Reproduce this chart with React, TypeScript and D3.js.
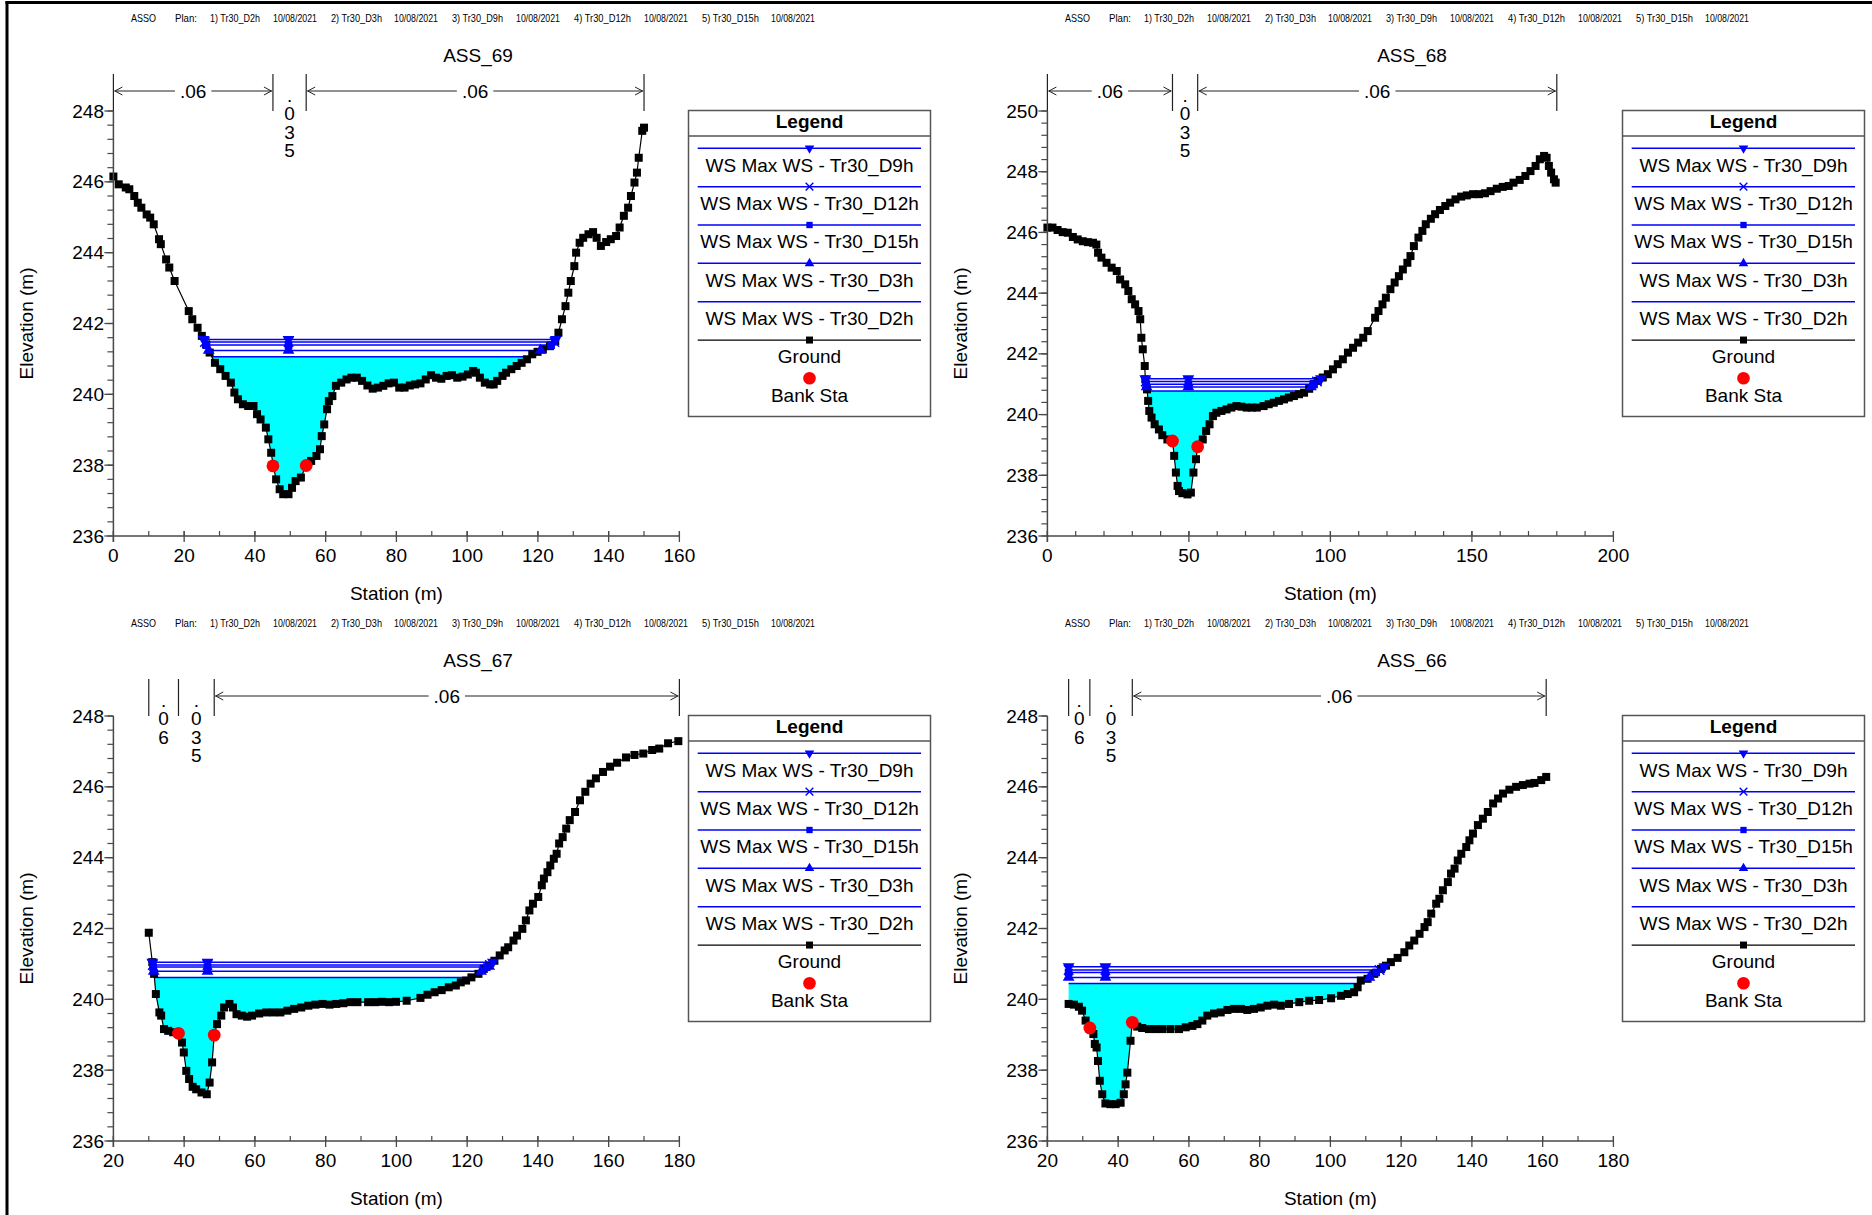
import React from 'react';
import * as d3 from 'd3';

// ---------------- DATA ----------------
const headerTokens = ['ASSO', 'Plan:', '1) Tr30_D2h', '10/08/2021', '2) Tr30_D3h', '10/08/2021', '3) Tr30_D9h', '10/08/2021', '4) Tr30_D12h', '10/08/2021', '5) Tr30_D15h', '10/08/2021'];

const titles = ['ASS_69', 'ASS_68', 'ASS_67', 'ASS_66'];

const legendWsLabels = ['WS Max WS - Tr30_D9h', 'WS Max WS - Tr30_D12h', 'WS Max WS - Tr30_D15h', 'WS Max WS - Tr30_D3h', 'WS Max WS - Tr30_D2h'];
const legendGroundLabel = 'Ground';
const legendBankLabel = 'Bank Sta';

// ASS_69
const st69 = [0,1.5,3.5,4.5,5.9,6.9,7.9,9.4,10.4,11.4,12.9,13.4,14.9,15.8,17.3,21.3,22.3,23.8,25,26.2,27.2,28.7,30.2,31.7,33.2,34.2,35.2,36.6,38.1,39.6,40.6,41.6,43.1,43.8,44.6,45.2,46,47,48,49.5,50.5,51.5,53,54.5,55.9,57.4,58.4,58.9,59.6,60.4,60.9,61.9,62.9,64.4,65.9,67.3,68.8,70.3,71.8,73.3,74.8,76.3,77.8,79.3,80.8,82.3,83.8,85.3,86.8,88.3,89.8,91.2,92.7,94.2,95.7,97.2,98.7,100.2,101.7,102.5,103.6,105,106.5,107.5,108.5,110,111,112.5,114,115.4,116.9,118.4,119.9,121.4,123.4,124.9,125.8,126.8,127.8,128.6,129.3,130.3,130.8,131.8,132.8,134.3,135.6,136.6,137.8,139.3,140.6,142.1,143.1,144.3,145.5,146.3,147.3,148,148.5,149.5,150];
const el69 = [246.15,245.93,245.84,245.79,245.6,245.41,245.27,245.08,244.99,244.8,244.38,244.24,243.81,243.58,243.2,242.35,242.12,241.88,241.65,241.41,241.18,240.89,240.71,240.52,240.33,240.05,239.86,239.72,239.67,239.67,239.44,239.29,239.06,238.73,238.35,237.98,237.6,237.32,237.18,237.18,237.36,237.55,237.65,237.99,238.12,238.26,238.45,238.82,239.15,239.58,239.81,239.95,240.24,240.33,240.42,240.47,240.47,240.38,240.25,240.16,240.19,240.24,240.31,240.33,240.19,240.19,240.25,240.28,240.31,240.42,240.54,240.47,240.44,240.52,240.54,240.47,240.5,240.56,240.66,240.61,240.47,240.33,240.28,240.28,240.38,240.52,240.61,240.71,240.8,240.89,240.99,241.13,241.2,241.27,241.36,241.5,241.74,242.12,242.49,242.87,243.2,243.62,244,244.28,244.42,244.52,244.58,244.42,244.19,244.3,244.38,244.47,244.71,245.04,245.27,245.6,245.98,246.26,246.68,247.44,247.53];
const bankSt69 = [45.1, 54.5];
const bankEl69 = [237.98, 237.99];
const nBounds69 = [0, 45.1, 54.5, 150];
const nLabels69 = ['.06', '.035', '.06'];
const ws69 = [241.55, 241.48, 241.39, 241.24, 241.06]; // D9h, D12h, D15h, D3h, D2h
const wsMid69 = 49.5;

// ASS_68
const st68 = [0,1.8,3.6,5.4,7.2,9,10.7,12.5,14.3,16.1,17.3,17.9,19.1,20.9,22.7,24.5,25.7,27.5,28.6,29.8,31,32.2,32.8,33.2,33.7,34.4,34.6,35.2,35.6,36,36.8,37.9,39.4,40.6,42.4,44.2,44.8,45.4,46,46.5,47.7,49.5,50.7,51.6,52.5,53.1,54.9,56.1,57.3,58.5,59.7,61.5,63.3,65,66.8,68.6,70.4,72.2,74,76.4,78.2,80,81.8,83.6,85.3,87.1,88.9,90.7,92.5,94.1,95.5,97.3,99.1,100.9,102.6,104.4,106.2,108,109.8,111.6,113.2,115.8,117,118.4,119.6,121.2,122.7,124.2,125.6,127.2,128.3,129.5,131.1,132.5,133.7,135.5,137,138.7,140.6,142.3,144.2,146.2,148.2,150.4,152.5,154.6,156.6,158.8,160.9,163,164.7,166.9,168.9,170.7,172.5,174,175.5,176.4,177.2,178,179,179.6];
const el68 = [246.16,246.16,246.08,246.01,245.99,245.85,245.77,245.71,245.68,245.66,245.6,245.33,245.17,245,244.84,244.73,244.45,244.29,244.07,243.8,243.63,243.41,243.14,242.53,242.15,241.6,241.16,240.83,240.45,240.12,239.9,239.68,239.51,239.32,239.18,239.13,238.64,238.09,237.65,237.48,237.41,237.37,237.43,238.09,238.53,238.94,239.18,239.46,239.68,239.95,240.06,240.12,240.17,240.23,240.28,240.26,240.23,240.23,240.23,240.28,240.34,240.39,240.45,240.5,240.56,240.61,240.67,240.72,240.85,241,241.11,241.22,241.33,241.49,241.66,241.82,242.04,242.2,242.37,242.53,242.75,243.19,243.41,243.63,243.85,244.13,244.35,244.56,244.78,245,245.22,245.55,245.83,246.05,246.27,246.45,246.6,246.74,246.87,246.98,247.09,247.18,247.22,247.26,247.26,247.29,247.36,247.44,247.5,247.53,247.64,247.73,247.86,248.02,248.19,248.41,248.52,248.46,248.19,247.97,247.75,247.64];
const bankSt68 = [44.2, 53.1];
const bankEl68 = [239.13, 238.94];
const nBounds68 = [0, 44.2, 53.1, 180];
const nLabels68 = ['.06', '.035', '.06'];
const ws68 = [241.18, 241.09, 241.0, 240.91, 240.78];
const wsMid68 = 49.8;

// ASS_67
const st67 = [30,31,31.5,32,33,33.5,34.3,35.5,36.9,38.4,39.4,39.9,40.6,41.4,42.4,43.4,44.9,46.4,47.2,47.9,48.5,49.3,50.5,51.3,52.8,53.8,54.8,56.3,57.8,59.2,61.2,63.2,65.2,67.2,69.2,71.1,73.1,75.1,77.1,79.1,81.1,83,85,87,89,92,94,95.9,97.9,99.9,102.9,106.8,108.8,110.8,112.8,114.8,116.8,118.2,119.7,121.2,123.2,124.7,126.2,127.7,129.2,130.6,131.6,133.1,134.1,135.6,136.6,137.6,138.6,140.1,141.1,141.7,142.7,143.5,144.5,145.3,146,147,148,149,150.5,151.9,153.4,154.9,156.4,158.4,160.4,162.4,164.9,167.3,169.8,172.3,174.3,176.8,179.7];
const el67 = [241.88,241.05,240.72,240.15,239.63,239.54,239.16,239.11,239.07,239.04,238.78,238.5,237.98,237.75,237.53,237.46,237.37,237.32,237.65,238.22,238.99,239.3,239.54,239.77,239.87,239.77,239.58,239.54,239.51,239.54,239.6,239.63,239.63,239.63,239.68,239.73,239.77,239.82,239.85,239.87,239.85,239.87,239.89,239.92,239.92,239.92,239.92,239.93,239.92,239.93,239.96,240.04,240.13,240.2,240.26,240.34,240.39,240.48,240.53,240.62,240.72,240.86,240.95,241.09,241.24,241.38,241.47,241.66,241.8,241.99,242.23,242.51,242.7,242.89,243.22,243.41,243.59,243.78,243.97,244.11,244.4,244.58,244.82,245.06,245.29,245.62,245.86,246.09,246.24,246.42,246.57,246.68,246.83,246.9,246.94,247.04,247.08,247.23,247.29];
const bankSt67 = [38.4, 48.5];
const bankEl67 = [239.04, 238.99];
const nBounds67 = [30, 38.4, 48.5, 180];
const nLabels67 = ['.06', '.035', '.06'];
const ws67 = [241.05, 240.97, 240.91, 240.79, 240.62];
const wsMid67 = 46.6;

// ASS_66
const st66 = [26,27.5,28.9,29.8,30.8,32,33,33.4,33.9,34.3,34.8,35.5,36.4,37.8,39.3,40.7,41.6,42.1,42.6,43.5,44,45.4,46.8,48.7,50.6,52.5,54.8,57.2,59.1,61,62.4,63.8,65.2,67.1,69,70.9,72.8,74.7,76.5,78.4,80.3,82.2,84.1,86,88.3,91.2,94,96.8,100.2,103,104.9,106.7,107.7,108.6,110.5,112.4,114.3,115.7,117.1,119,120.9,122.3,123.7,125.2,126.6,127.5,128.5,129.9,130.8,131.8,133.2,134.1,135.1,136,137,138.4,139.3,140.3,141.7,143.1,144.5,146,147.4,148.8,150.6,152.5,154.4,156.3,157.7,159.6,161];
const el66 = [239.87,239.85,239.79,239.68,239.4,239.19,239.02,238.74,238.64,238.26,237.7,237.32,237.06,237.04,237.04,237.08,237.32,237.6,237.93,238.83,239.35,239.23,239.19,239.16,239.16,239.16,239.16,239.16,239.21,239.25,239.3,239.4,239.54,239.6,239.63,239.7,239.73,239.73,239.7,239.73,239.77,239.82,239.85,239.82,239.87,239.92,239.96,239.98,240.03,240.1,240.15,240.2,240.34,240.53,240.58,240.72,240.86,240.95,241.05,241.17,241.33,241.52,241.66,241.85,242.04,242.18,242.42,242.7,242.84,243.08,243.31,243.55,243.69,243.92,244.11,244.3,244.49,244.68,244.92,245.1,245.29,245.53,245.67,245.81,245.92,246,246.05,246.09,246.11,246.19,246.28];
const bankSt66 = [32, 44];
const bankEl66 = [239.19, 239.35];
const nBounds66 = [26, 32, 44, 161];
const nLabels66 = ['.06', '.035', '.06'];
const ws66 = [240.92, 240.83, 240.76, 240.62, 240.45];
const wsMid66 = 36.4;

const xDomains = [[0, 160], [0, 200], [20, 180], [20, 180]];
const xMajorSteps = [20, 50, 20, 20];
const yDomains = [[236, 248], [236, 250], [236, 248], [236, 248]];

// ---------------- LAYOUT / STYLE ----------------
const W = 1872, H = 1215;
const PL = 113.4, PR = 679.4, PT = 111, PB = 536;
const DX = 934, DY = 605;
const FONT = "'Liberation Sans', Arial, Helvetica, sans-serif";
const HEADER_X = [131, 175, 210, 273, 331, 394, 452, 516, 574, 644, 702, 771];
const HEADER_W = [25, 22, 50, 44, 51, 44, 51, 44, 57, 44, 57, 44];
const WS_SYMBOLS = ['triangleDown', 'times', 'square', 'triangleUp', 'none'];
const BLUE = '#0000ff';
const AXIS = '#484848';
const GS = 8; // ground marker size

const panelData = [
  { st: st69, el: el69, bankSt: bankSt69, bankEl: bankEl69, nB: nBounds69, nL: nLabels69, ws: ws69, mid: wsMid69 },
  { st: st68, el: el68, bankSt: bankSt68, bankEl: bankEl68, nB: nBounds68, nL: nLabels68, ws: ws68, mid: wsMid68 },
  { st: st67, el: el67, bankSt: bankSt67, bankEl: bankEl67, nB: nBounds67, nL: nLabels67, ws: ws67, mid: wsMid67 },
  { st: st66, el: el66, bankSt: bankSt66, bankEl: bankEl66, nB: nBounds66, nL: nLabels66, ws: ws66, mid: wsMid66 },
];

function wetExtent(st: number[], el: number[], level: number): [number, number] {
  const imin = d3.minIndex(el);
  let left = st[0];
  let right = st[st.length - 1];
  for (let i = imin; i > 0; i--) {
    if (el[i - 1] >= level) {
      const t = (level - el[i - 1]) / (el[i] - el[i - 1]);
      left = st[i - 1] + t * (st[i] - st[i - 1]);
      break;
    }
  }
  for (let i = imin; i < st.length - 1; i++) {
    if (el[i + 1] >= level) {
      const t = (level - el[i]) / (el[i + 1] - el[i]);
      right = st[i] + t * (st[i + 1] - st[i]);
      break;
    }
  }
  return [left, right];
}

function symbolPath(type: string, size: number): string {
  if (type === 'square') return d3.symbol(d3.symbolSquare, size)() as string;
  if (type === 'triangleUp' || type === 'triangleDown') return d3.symbol(d3.symbolTriangle, size)() as string;
  if (type === 'times') return d3.symbol(d3.symbolTimes, size)() as string;
  return '';
}

function Marker({ type, x, y, size }: { type: string; x: number; y: number; size: number }) {
  if (type === 'none') return null;
  const d = symbolPath(type, size);
  const rot = type === 'triangleDown' ? ' rotate(180)' : '';
  if (type === 'times') {
    return <path d={d} transform={`translate(${x},${y})`} fill="none" stroke={BLUE} strokeWidth={1.4} />;
  }
  return <path d={d} transform={`translate(${x},${y})${rot}`} fill={BLUE} />;
}

function textWidth(s: string, fs: number) {
  let w = 0;
  for (const c of s) w += c === '.' ? 0.278 : 0.556;
  return w * fs;
}

function Panel({ idx }: { idx: number }) {
  const p = panelData[idx];
  const ox = (idx % 2) * DX;
  const oy = Math.floor(idx / 2) * DY;
  const xd = xDomains[idx];
  const yd = yDomains[idx];
  const x = d3.scaleLinear().domain(xd).range([PL, PR]);
  const y = d3.scaleLinear().domain(yd).range([PB, PT]);

  const xMinor = d3.range(xd[0], xd[1] + 1e-6, 10);
  const xMajor = d3.range(xd[0], xd[1] + 1e-6, xMajorSteps[idx]);
  const yMinor = d3.range(0, Math.round((yd[1] - yd[0]) / 0.4) + 1).map((k) => yd[0] + k * 0.4);
  const yMajor = d3.range(yd[0], yd[1] + 1e-6, 2);

  // cyan fill for the lowest profile (Tr30_D2h)
  const fillLevel = p.ws[p.ws.length - 1];
  const [fl, fr] = wetExtent(p.st, p.el, fillLevel);
  const fillPts: [number, number][] = [[fl, fillLevel]];
  p.st.forEach((s, i) => {
    if (s >= fl && s <= fr) fillPts.push([s, Math.min(p.el[i], fillLevel)]);
  });
  fillPts.push([fr, fillLevel]);
  const fillPath = d3.line<[number, number]>().x((d) => x(d[0])).y((d) => y(d[1]))(fillPts) + 'Z';

  const groundPath = d3.line<number>().x((_, i) => x(p.st[i])).y((d) => y(d))(p.el) as string;

  const wsExt = p.ws.map((lv) => wetExtent(p.st, p.el, lv));

  // n-value brackets
  const bracketTop = PT - 37;
  const arrowY = PT - 20;
  const brackets = p.nL.map((lab, k) => {
    const xa = x(p.nB[k]);
    const xb = x(p.nB[k + 1]);
    const tw = textWidth(lab, 19);
    const cx = (xa + xb) / 2;
    if (xb - xa > tw + 30) {
      const g = tw / 2 + 5;
      return (
        <g key={'nb' + k}>
          <line x1={xa + 1} y1={arrowY} x2={cx - g} y2={arrowY} stroke="#222" strokeWidth={1} />
          <line x1={cx + g} y1={arrowY} x2={xb - 1} y2={arrowY} stroke="#222" strokeWidth={1} />
          <path d={`M${xa + 9},${arrowY - 4}L${xa + 1.5},${arrowY}L${xa + 9},${arrowY + 4}`} fill="none" stroke="#222" strokeWidth={1} />
          <path d={`M${xb - 9},${arrowY - 4}L${xb - 1.5},${arrowY}L${xb - 9},${arrowY + 4}`} fill="none" stroke="#222" strokeWidth={1} />
          <text x={cx} y={arrowY} textAnchor="middle" dominantBaseline="central" fontSize={19} fontFamily={FONT} fill="#000">{lab}</text>
        </g>
      );
    }
    return (
      <g key={'nb' + k}>
        {lab.split('').map((c, j) => (
          <text key={j} x={cx} y={PT - 16 + 18.5 * j} textAnchor="middle" dominantBaseline="central" fontSize={19} fontFamily={FONT} fill="#000">{c}</text>
        ))}
      </g>
    );
  });

  // legend geometry
  const LX = 688.5, LY = 110.5, LW = 242, LH = 306;
  const lcx = LX + LW / 2;
  const rowLine = (i: number) => 148.3 + 38.35 * i;
  const rowText = (i: number) => 165 + 38.35 * i;

  return (
    <g transform={`translate(${ox},${oy})`}>
      {/* header */}
      {headerTokens.map((t, i) => (
        <text key={'h' + i} x={HEADER_X[i]} y={21.5} fontSize={10.5} fontFamily={FONT} fill="#000" textLength={HEADER_W[i]} lengthAdjust="spacingAndGlyphs">{t}</text>
      ))}
      {/* title */}
      <text x={478} y={55} textAnchor="middle" dominantBaseline="central" fontSize={19} fontFamily={FONT} fill="#000">{titles[idx]}</text>

      {/* brackets */}
      {p.nB.map((b, k) => (
        <line key={'bv' + k} x1={x(b)} y1={bracketTop} x2={x(b)} y2={PT} stroke="#222" strokeWidth={1.2} />
      ))}
      {brackets}

      {/* water fill */}
      <path d={fillPath} fill="#00ffff" stroke="none" />

      {/* WS lines */}
      {p.ws.map((lv, i) => (
        <line key={'ws' + i} x1={x(wsExt[i][0])} y1={y(lv)} x2={x(wsExt[i][1])} y2={y(lv)} stroke={BLUE} strokeWidth={1.5} />
      ))}

      {/* ground */}
      <path d={groundPath} fill="none" stroke="#000" strokeWidth={1.2} />
      {p.st.map((s, i) => (
        <rect key={'g' + i} x={x(s) - GS / 2} y={y(p.el[i]) - GS / 2} width={GS} height={GS} fill="#000" />
      ))}

      {/* WS markers */}
      {p.ws.map((lv, i) => (
        <g key={'wm' + i}>
          <Marker type={WS_SYMBOLS[i]} x={x(wsExt[i][0])} y={y(lv)} size={60} />
          <Marker type={WS_SYMBOLS[i]} x={x(p.mid)} y={y(lv)} size={60} />
          <Marker type={WS_SYMBOLS[i]} x={x(wsExt[i][1])} y={y(lv)} size={60} />
        </g>
      ))}

      {/* bank stations */}
      {p.bankSt.map((s, i) => (
        <circle key={'b' + i} cx={x(s)} cy={y(p.bankEl[i])} r={6.4} fill="#ff0000" />
      ))}

      {/* axes */}
      <line x1={PL} y1={PT} x2={PL} y2={PB + 6} stroke={AXIS} strokeWidth={1.5} />
      <line x1={PL} y1={PB} x2={PR} y2={PB} stroke={AXIS} strokeWidth={1.5} />
      {yMinor.map((v, i) => (
        <line key={'ym' + i} x1={PL - 6} y1={y(v)} x2={PL} y2={y(v)} stroke={AXIS} strokeWidth={1.2} />
      ))}
      {yMajor.map((v, i) => (
        <g key={'yM' + i}>
          <line x1={PL - 9} y1={y(v)} x2={PL} y2={y(v)} stroke={AXIS} strokeWidth={1.3} />
          <text x={104} y={y(v)} textAnchor="end" dominantBaseline="central" fontSize={19} fontFamily={FONT} fill="#000">{v}</text>
        </g>
      ))}
      {xMinor.map((v, i) => (
        <line key={'xm' + i} x1={x(v)} y1={PB - 5} x2={x(v)} y2={PB} stroke={AXIS} strokeWidth={1.2} />
      ))}
      {xMajor.map((v, i) => (
        <g key={'xM' + i}>
          <line x1={x(v)} y1={PB - 5} x2={x(v)} y2={PB + 6} stroke={AXIS} strokeWidth={1.3} />
          <text x={x(v)} y={555} textAnchor="middle" dominantBaseline="central" fontSize={19} fontFamily={FONT} fill="#000">{v}</text>
        </g>
      ))}
      <text x={(PL + PR) / 2} y={593} textAnchor="middle" dominantBaseline="central" fontSize={19} fontFamily={FONT} fill="#000">Station (m)</text>
      <text x={26} y={(PT + PB) / 2} transform={`rotate(-90,26,${(PT + PB) / 2})`} textAnchor="middle" dominantBaseline="central" fontSize={19} fontFamily={FONT} fill="#000">Elevation (m)</text>

      {/* legend */}
      <rect x={LX} y={LY} width={LW} height={LH} fill="#fff" stroke="#555" strokeWidth={1.5} />
      <line x1={LX} y1={136} x2={LX + LW} y2={136} stroke="#555" strokeWidth={1.5} />
      <text x={lcx} y={121.5} textAnchor="middle" dominantBaseline="central" fontSize={19} fontWeight="bold" fontFamily={FONT} fill="#000">Legend</text>
      {legendWsLabels.map((lab, i) => (
        <g key={'lg' + i}>
          <line x1={697.7} y1={rowLine(i)} x2={921} y2={rowLine(i)} stroke={BLUE} strokeWidth={1.5} />
          <Marker type={WS_SYMBOLS[i]} x={lcx} y={rowLine(i)} size={40} />
          <text x={lcx} y={rowText(i)} textAnchor="middle" dominantBaseline="central" fontSize={19} fontFamily={FONT} fill="#000">{lab}</text>
        </g>
      ))}
      <line x1={697.7} y1={rowLine(5)} x2={921} y2={rowLine(5)} stroke="#000" strokeWidth={1.2} />
      <rect x={lcx - 3.5} y={rowLine(5) - 3.5} width={7} height={7} fill="#000" />
      <text x={lcx} y={rowText(5)} textAnchor="middle" dominantBaseline="central" fontSize={19} fontFamily={FONT} fill="#000">{legendGroundLabel}</text>
      <circle cx={lcx} cy={378.3} r={6.3} fill="#ff0000" />
      <text x={lcx} y={395} textAnchor="middle" dominantBaseline="central" fontSize={19} fontFamily={FONT} fill="#000">{legendBankLabel}</text>
    </g>
  );
}

export default function App() {
  return (
    <svg width={W} height={H} viewBox={`0 0 ${W} ${H}`} style={{ position: 'absolute', left: 0, top: 0, display: 'block', background: '#fff' }}>
      <rect x={0} y={0} width={W} height={H} fill="#fff" />
      <line x1={5.5} y1={2.5} x2={W} y2={2.5} stroke="#000" strokeWidth={3} />
      <line x1={7} y1={1} x2={7} y2={H} stroke="#000" strokeWidth={3} />
      {[0, 1, 2, 3].map((i) => (
        <Panel key={i} idx={i} />
      ))}
    </svg>
  );
}
